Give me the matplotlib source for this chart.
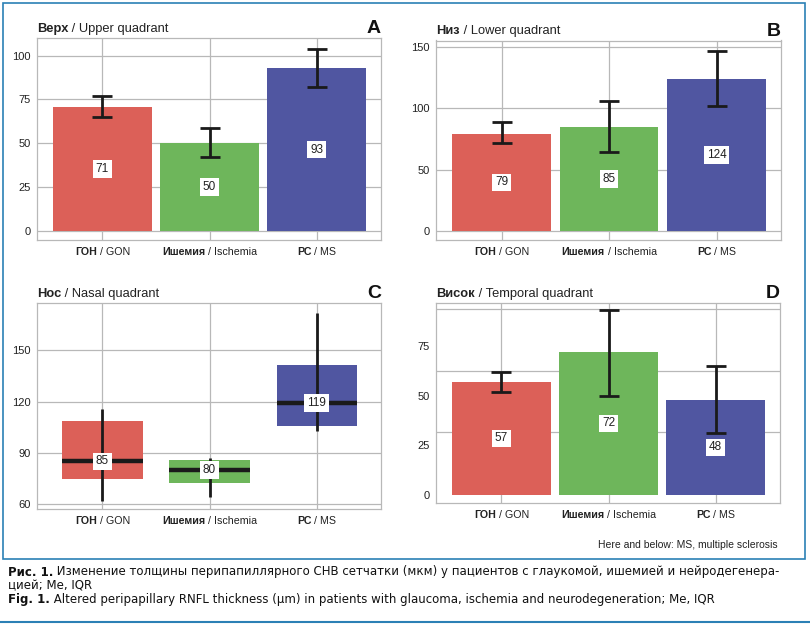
import matplotlib
matplotlib.use("Agg")
import matplotlib.pyplot as plt
from matplotlib.offsetbox import TextArea, HPacker, AnnotationBbox
from matplotlib.patches import Rectangle
from matplotlib.lines import Line2D
import numpy as np

plt.rcParams['font.family'] = ['Liberation Sans', 'DejaVu Sans']
CAPFONT = ['DejaVu Sans']

# groupes
groups_ru = ['ГОН', 'Ишемия', 'РС']
groups_en = ['GON', 'Ischemia', 'MS']
colors = ['#DC6058', '#6EB65B', '#5056A1']

# A - upper
upper_me = [71, 50, 93]
upper_q1 = [65, 42, 82]
upper_q3 = [77, 59, 104]
# B - lower
lower_me = [79, 85, 124]
lower_q1 = [72, 64, 102]
lower_q3 = [89, 106, 147]
# C - nasal
nasal_me = [85, 80, 119]
nasal_q1 = [75, 72.5, 105.5]
nasal_q3 = [108.5, 86, 141.5]
nasal_lo = [62, 64.5, 103]
nasal_hi = [115.5, 87, 172]
# D - temporal
temporal_me = [57, 72, 48]
temporal_q1 = [52, 50, 31]
temporal_q3 = [62, 93, 65]

GRID = '#b8b8b8'
FRAME = '#2B80B5'

fig = plt.figure(figsize=(8.1, 6.27), dpi=100)
W, H = 810, 627


def make_ax(x0, y0, x1, y1):
    # coordonnees en pixels (origine en haut a gauche)
    ax = fig.add_axes([x0 / W, 1 - y1 / H, (x1 - x0) / W, (y1 - y0) / H])
    ax.set_axisbelow(True)
    for s in ax.spines.values():
        s.set_color(GRID)
        s.set_linewidth(0.9)
    ax.tick_params(length=0, labelsize=8, pad=4.5, colors='#222222')
    ax.set_xlim(-0.61, 2.6)
    ax.set_xticks([0, 1, 2])
    ax.set_xticklabels([])
    ax.grid(True, color=GRID, linewidth=0.9)
    for i in range(3):
        box = HPacker(children=[
            TextArea(groups_ru[i], textprops=dict(fontsize=7.7, fontweight='bold', color='#222222')),
            TextArea(' / ' + groups_en[i], textprops=dict(fontsize=7.7, color='#222222'))],
            pad=0, sep=0, align='baseline')
        ab = AnnotationBbox(box, (i, 0), xycoords=('data', 'axes fraction'),
                            xybox=(0, -5), boxcoords='offset points',
                            box_alignment=(0.5, 1), frameon=False, pad=0)
        ax.add_artist(ab)
    return ax


def titre(ax, ru, en, lettre):
    t = ax.annotate(ru, xy=(0, 1), xycoords='axes fraction', xytext=(0, 4.5),
                    textcoords='offset points', fontsize=9.3, fontweight='bold',
                    va='baseline', ha='left', color='#222222')
    ax.annotate(' / ' + en, xy=(1, 0), xycoords=t, fontsize=9.3, va='bottom',
                ha='left', color='#222222')
    ax.annotate(lettre, xy=(1, 1), xycoords='axes fraction', xytext=(0, 3.5),
                textcoords='offset points', fontsize=14, fontweight='bold',
                va='baseline', ha='right', color='#111111')


def barres(ax, me, q1, q3):
    x = np.arange(3)
    me = np.array(me)
    ax.bar(x, me, width=0.92, color=colors, zorder=2)
    err = [me - np.array(q1), np.array(q3) - me]
    ax.errorbar(x, me, yerr=err, fmt='none', ecolor='#1a1a1a', elinewidth=2,
                capsize=7.5, capthick=2, zorder=3)
    for xi, v in zip(x, me):
        ax.text(xi, v / 2, str(v), ha='center', va='center', fontsize=8.5,
                color='#222222', bbox=dict(fc='white', ec='none', pad=2), zorder=4)


# A
axA = make_ax(37, 38, 381, 240)
barres(axA, upper_me, upper_q1, upper_q3)
axA.set_ylim(-5, 110)
axA.set_yticks([0, 25, 50, 75, 100])
titre(axA, 'Верх', 'Upper quadrant', 'A')

# B
axB = make_ax(436, 40.5, 781, 240)
barres(axB, lower_me, lower_q1, lower_q3)
axB.set_ylim(-7.5, 155.5)
axB.set_yticks([0, 50, 100, 150])
titre(axB, 'Низ', 'Lower quadrant', 'B')

# C - boites
axC = make_ax(37, 303, 381, 509)
x = np.arange(3)
q1 = np.array(nasal_q1)
q3 = np.array(nasal_q3)
axC.bar(x, q3 - q1, bottom=q1, width=0.75, color=colors, zorder=2)
axC.vlines(x, nasal_lo, nasal_hi, color='#1a1a1a', linewidth=2, zorder=3)
axC.hlines(nasal_me, x - 0.375, x + 0.375, color='#1a1a1a', linewidth=3.2, zorder=3)
for xi, v in zip(x, nasal_me):
    axC.text(xi, v, str(v), ha='center', va='center', fontsize=8.5,
             color='#222222', bbox=dict(fc='white', ec='none', pad=2), zorder=4)
axC.set_ylim(57.2, 177.6)
axC.set_yticks([60, 90, 120, 150])
titre(axC, 'Нос', 'Nasal quadrant', 'C')

# D - les graduations ne tombent pas sur la grille dans l'original
axD = make_ax(436, 303.3, 780, 503.3)
barres(axD, temporal_me, temporal_q1, temporal_q3)
axD.set_ylim(-4, 96.2)
axD.set_yticks([0, 25, 50, 75])
axD.set_yticks([0, 31.5, 62.3, 93.2], minor=True)
axD.tick_params(axis='y', which='minor', length=0)
axD.grid(False, axis='y', which='major')
axD.grid(True, axis='y', which='minor', color=GRID, linewidth=0.9)
titre(axD, 'Висок', 'Temporal quadrant', 'D')

fig.text(778 / W, 1 - 545 / H, 'Here and below: MS, multiple sclerosis',
         ha='right', va='center', fontsize=7.5, color='#222222')

# cadre bleu + ligne du bas
fig.patches.append(Rectangle((2.5 / W, 1 - 559 / H), 802 / W, 556.5 / H,
                             transform=fig.transFigure, fill=False,
                             edgecolor=FRAME, linewidth=1.2))
fig.lines.append(Line2D([0, 1], [1 - 621.5 / H] * 2, transform=fig.transFigure,
                        color=FRAME, linewidth=1.5))

# legende de la figure
CAPSIZE = 8.5

def ligne(x, y, gras, texte):
    t = fig.text(x / W, 1 - y / H, gras, fontsize=CAPSIZE, fontweight='bold',
                 va='baseline', ha='left', color='#111111', family=CAPFONT)
    plt.annotate(texte, xy=(1, 0), xycoords=t, fontsize=CAPSIZE, va='bottom',
                 ha='left', color='#111111', family=CAPFONT,
                 annotation_clip=False)

ligne(8, 575.5, 'Рис. 1.', ' Изменение толщины перипапиллярного СНВ сетчатки (мкм) у пациентов с глаукомой, ишемией и нейродегенера-')
fig.text(8 / W, 1 - 589 / H, 'цией; Me, IQR', fontsize=CAPSIZE, va='baseline',
         color='#111111', family=CAPFONT)
ligne(8, 603, 'Fig. 1.', ' Altered peripapillary RNFL thickness (\u03bcm) in patients with glaucoma, ischemia and neurodegeneration; Me, IQR')

fig.savefig('out.png', dpi=100)
